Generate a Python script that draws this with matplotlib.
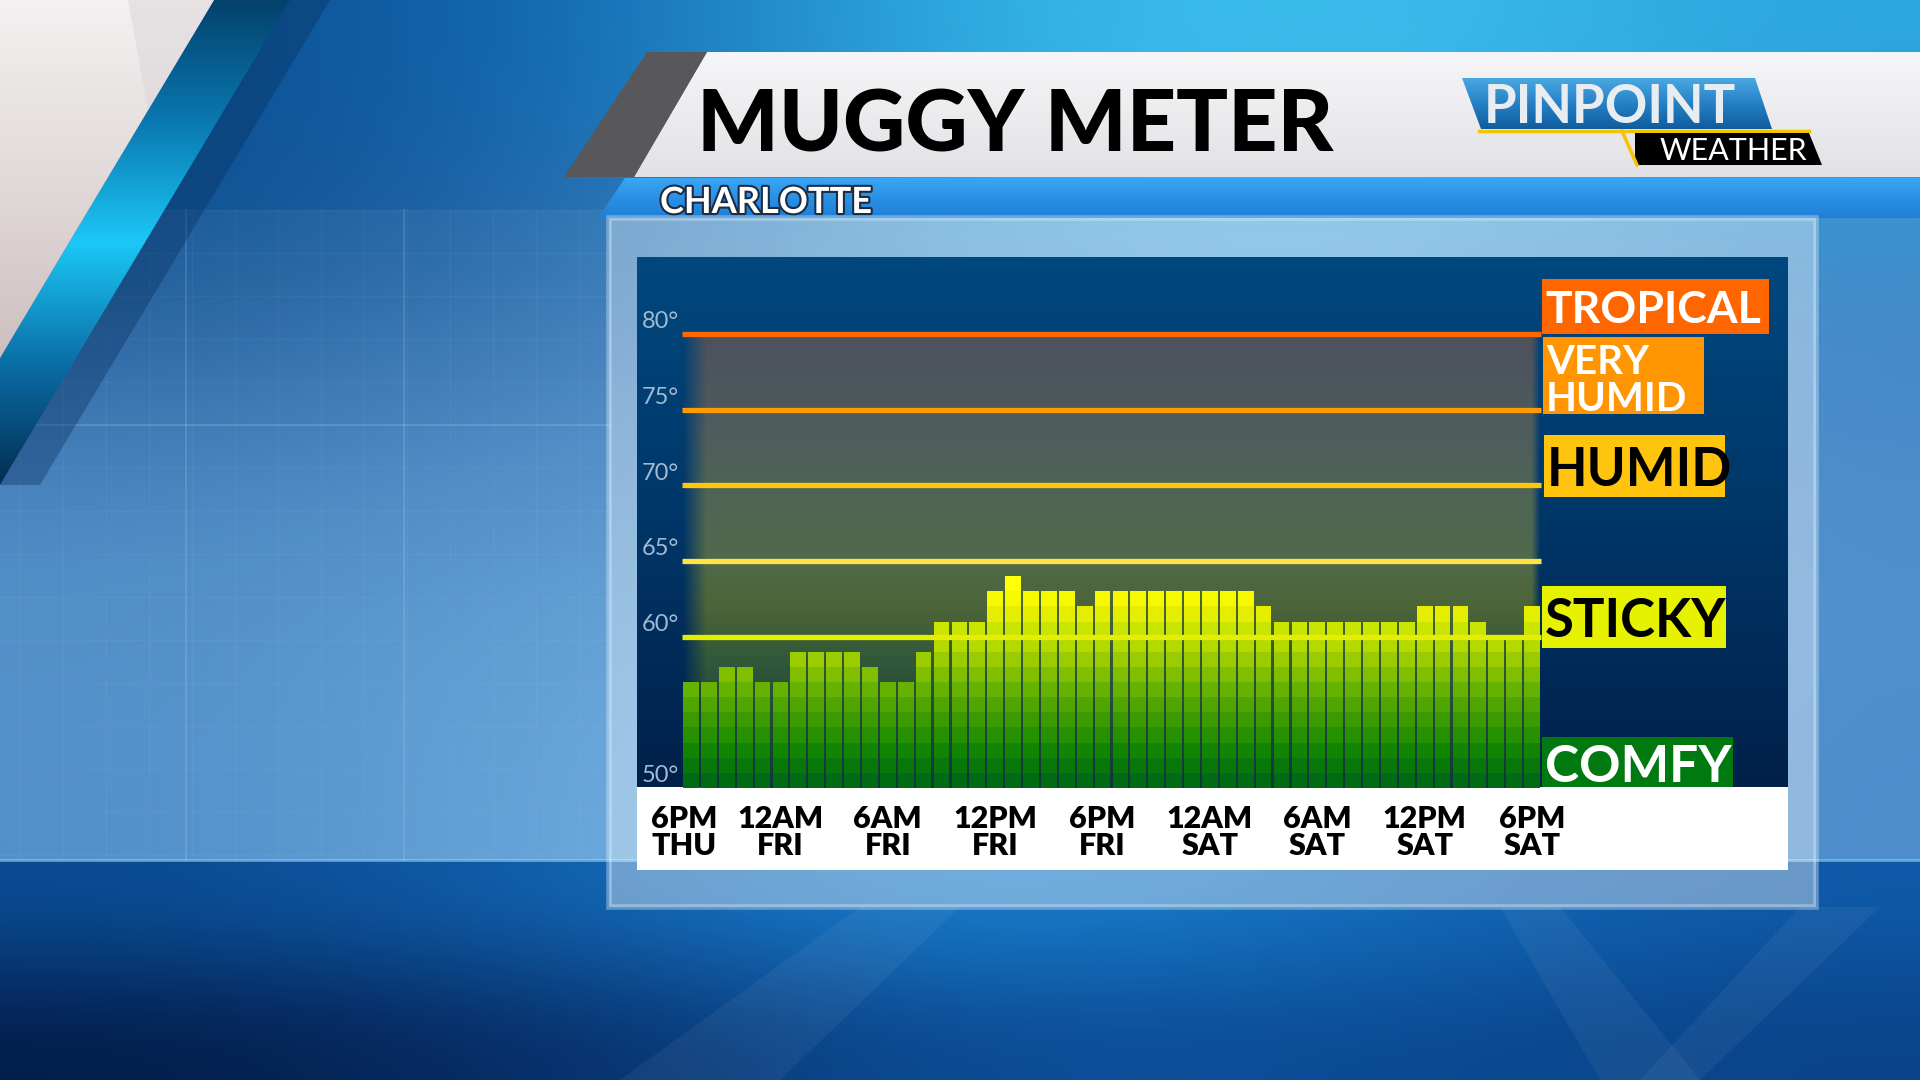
import numpy as np
import matplotlib
matplotlib.use('Agg')
import matplotlib.pyplot as plt
from matplotlib.patches import Polygon, Rectangle
from matplotlib.colors import LinearSegmentedColormap, to_rgb
import matplotlib.transforms as mtransforms
import matplotlib.patheffects as pe

plt.rcParams['font.family'] = ['Lato', 'DejaVu Sans']

# hourly dewpoint, 6PM Thu -> 6PM Sat
dewpoints = [57, 57, 58, 58, 57, 57, 59, 59, 59, 59, 58, 57,
             57, 59, 61, 61, 61, 63, 64, 63, 63, 63, 62, 63,
             63, 63, 63, 63, 63, 63, 63, 63, 62, 61, 61, 61,
             61, 61, 61, 61, 61, 62, 62, 62, 61, 60, 60, 62]
tick_pos = [-0.4, 5, 11, 17, 23, 29, 35, 41, 47]
tick_labels = ['6PM\nTHU', '12AM\nFRI', '6AM\nFRI', '12PM\nFRI', '6PM\nFRI',
               '12AM\nSAT', '6AM\nSAT', '12PM\nSAT', '6PM\nSAT']
y_ticks = [50, 60, 65, 70, 75, 80]
thresholds = [60, 65, 70, 75, 80]
threshold_colors = ['#E4EE00', '#FFE244', '#FFC70C', '#FF9A00', '#FF6600']
categories = ['TROPICAL', 'VERY\nHUMID', 'HUMID', 'STICKY', 'COMFY']
cat_colors = ['#FF6600', '#FF9500', '#FFC40E', '#E6F200', '#007A10']
cat_text = ['white', 'white', 'black', 'black', 'white']

W, H = 1920, 1080
fig = plt.figure(figsize=(19.2, 10.8), dpi=100)
bg = fig.add_axes([0, 0, 1, 1])
bg.set_xlim(0, W)
bg.set_ylim(H, 0)
bg.axis('off')


def grad_poly(pts, colors, vertical=True, z=1, alpha=1.0):
    pts = np.array(pts, float)
    x0, x1 = pts[:, 0].min(), pts[:, 0].max()
    y0, y1 = pts[:, 1].min(), pts[:, 1].max()
    cmap = LinearSegmentedColormap.from_list('g', colors)
    g = np.linspace(0, 1, 256)
    arr = g[:, None] if vertical else g[None, :]
    im = bg.imshow(arr, cmap=cmap, extent=(x0, x1, y1, y0), aspect='auto',
                   zorder=z, alpha=alpha, interpolation='bilinear')
    poly = Polygon(pts, closed=True, facecolor='none', edgecolor='none')
    bg.add_patch(poly)
    im.set_clip_path(poly)
    return im


def grid_img(rows, extent, z=0):
    arr = np.array([[to_rgb(c) for c in r] for r in rows])
    bg.imshow(arr, extent=extent, aspect='auto', interpolation='bicubic', zorder=z)


# background
grid_img([['#0B4F92', '#1468B2', '#2FB2E6', '#3EC4F0', '#2CA6DE'],
          ['#0E4F8E', '#2A6CAE', '#4C98D2', '#5AA6DC', '#3E88C8'],
          ['#3A76B6', '#4A86C4', '#5A98D0', '#64A4D8', '#4A8ACA'],
          ['#4C8CC6', '#5A9CD2', '#66A6DA', '#66A8DA', '#5090CE'],
          ['#4A8AC8', '#60A2D8', '#78B6E2', '#6AAADC', '#4C8CCC']],
         (0, W, 860, 0))
grid_img([['#0A4C94', '#1262B0', '#1C84D2', '#1670C0', '#0E5AA8'],
          ['#031C48', '#082F6A', '#0C4E98', '#0A4C94', '#0A4288']],
         (0, W, H, 860))
bg.plot([0, W], [860, 860], color='#9AD4F4', alpha=0.6, lw=2, zorder=1)

# faint grid on the left
bg.add_patch(Rectangle((0, 210), 610, 650, facecolor='white', alpha=0.05, zorder=1))
for gx in np.arange(20, 610, 43):
    bg.plot([gx, gx], [210, 860], color='white', alpha=0.04, lw=1, zorder=1)
for gy in np.arange(210, 860, 43):
    bg.plot([0, 610], [gy, gy], color='white', alpha=0.04, lw=1, zorder=1)
for gx in [186, 404]:
    bg.plot([gx, gx], [210, 860], color='white', alpha=0.12, lw=1.5, zorder=1)
bg.plot([0, 610], [425, 425], color='white', alpha=0.12, lw=1.5, zorder=1)

# light rays in the lower band
for pts in [[(860, 907), (960, 907), (780, 1080), (620, 1080)],
            [(1500, 907), (1560, 907), (1700, 1080), (1600, 1080)],
            [(1800, 907), (1880, 907), (1700, 1080), (1640, 1080)]]:
    bg.add_patch(Polygon(pts, facecolor='white', alpha=0.05, zorder=1))

# top-left corner shapes
grad_poly([(214, 0), (290, 0), (0, 485), (0, 358)],
          ['#03426C', '#0A78B0', '#1CC8F6', '#0A6EA6', '#032E52'], z=2)
bg.add_patch(Polygon([(290, 0), (330, 0), (40, 485), (0, 485)],
                     facecolor='#062C58', alpha=0.35, zorder=2))
grad_poly([(0, 0), (214, 0), (0, 358)], ['#F3F1F1', '#E2DADA', '#CDBFC0'], z=3)
bg.add_patch(Polygon([(128, 0), (214, 0), (148, 110)],
                     facecolor='#D8D2D6', alpha=0.45, zorder=3))

# header banner
grad_poly([(707, 52), (W, 52), (W, 177), (634, 177)],
          ['#F6F6F8', '#ECECEF', '#E2E2E6'], z=4)
bg.add_patch(Polygon([(647, 52), (707, 52), (634, 177), (564, 177)],
                     facecolor='#58585A', zorder=5))
grad_poly([(625, 178), (W, 178), (W, 218), (598, 218)],
          ['#3AA6F4', '#2A90E4', '#1F7FD6'], z=4)

bg.text(697, 151, 'MUGGY METER', fontsize=62, fontweight='black', color='black',
        va='baseline', ha='left', zorder=6)
bg.text(660, 213, 'CHARLOTTE', fontsize=26, fontweight='bold', color='white',
        va='baseline', ha='left', zorder=6,
        path_effects=[pe.Stroke(linewidth=3, foreground='#1C2C44'), pe.Normal()])

# logo
grad_poly([(1462, 78), (1755, 78), (1772, 129), (1481, 129)],
          ['#4AA8E2', '#2680C4', '#0E5C9E'], z=6)
bg.plot([1479, 1809], [131, 131], color='#F4C400', lw=2.5, zorder=7)
bg.add_patch(Polygon([(1635, 133), (1809, 133), (1822, 165), (1635, 165)],
                     facecolor='black', zorder=7))
bg.plot([1622, 1637], [131, 165], color='#F4C400', lw=2.5, zorder=8)
bg.text(1484, 123, 'PINPOINT', fontsize=38, fontweight='bold', color='#E8EDF2',
        va='baseline', ha='left', zorder=8)
bg.text(1733, 160, 'WEATHER', fontsize=22, fontweight='normal', color='white',
        va='baseline', ha='center', zorder=8)

# chart panel
bg.add_patch(Rectangle((609, 218), 1207, 689, facecolor='white', alpha=0.38,
                       edgecolor='#DDEEFA', lw=4, zorder=4))
grad_poly([(637, 257), (1788, 257), (1788, 787), (637, 787)],
          ['#00487F', '#003668', '#00204A'], z=5)
bg.add_patch(Rectangle((637, 787), 1151, 83, facecolor='white', zorder=5))

# category boxes
boxes = [(1542, 279, 1769, 334, 32, 323),
         (1543, 337, 1704, 414, 29, 411),
         (1544, 435, 1725, 497, 38, 486),
         (1542, 586, 1726, 648, 38, 637),
         (1542, 737, 1733, 787, 37, 782)]
for name, fc, tc, (x0, y0, x1, y1, fs, base) in zip(categories, cat_colors, cat_text, boxes):
    bg.add_patch(Rectangle((x0, y0), x1 - x0, y1 - y0, facecolor=fc, zorder=6))
    lines = name.split('\n')
    for k, line in enumerate(lines):
        yb = base - (len(lines) - 1 - k) * 37
        bg.text(x0 + 3, yb, line, fontsize=fs, fontweight='bold', color=tc,
                va='baseline', ha='left', zorder=7)

# data axes
ax = fig.add_axes([682 / W, (H - 788) / H, (1541 - 682) / W, (788 - 334) / H])
ax.set_xlim(-0.5, len(dewpoints) - 0.5)
ax.set_ylim(50, 80)
ax.patch.set_alpha(0)
for s in ax.spines.values():
    s.set_visible(False)

# shaded band behind the bars
band = LinearSegmentedColormap.from_list('band', [(0, '#4D515C'), (0.17, '#4E5A5D'),
                                                  (0.33, '#4F6458'), (0.5, '#506A4A'),
                                                  (0.6, '#4C6438'), (0.73, '#30573A'),
                                                  (1, '#0E3838')])
ny, nx = 300, 480
rgba = band(np.linspace(0, 1, ny))[:, None, :].repeat(nx, axis=1)
xs = np.linspace(-0.5, len(dewpoints) - 0.5, nx)
fade = np.clip((xs + 0.5) / 1.3, 0, 1) * np.clip((len(dewpoints) - 0.5 - xs) / 0.45, 0, 1)
rgba[:, :, 3] = fade[None, :]
ax.imshow(rgba, extent=(-0.5, len(dewpoints) - 0.5, 50, 80), aspect='auto',
          zorder=1, interpolation='bilinear')

# banded bars
lev_cmap = LinearSegmentedColormap.from_list('dew', [
    (0, '#006A14'), (0.14, '#108600'), (0.286, '#3A9A00'), (0.43, '#66B200'),
    (0.57, '#99CC00'), (0.64, '#B3D900'), (0.714, '#CCE500'), (0.786, '#E4EE00'),
    (0.857, '#F8F800'), (0.93, '#FFFF06'), (1, '#FFEE22')])
vals = np.array(dewpoints)
idx = np.arange(len(vals))
for lev in range(50, 65):
    m = vals > lev
    if m.any():
        ax.bar(idx[m], np.minimum(vals[m] - lev, 1), bottom=lev, width=0.88,
               color=lev_cmap((lev - 50) / 14), linewidth=0, zorder=3)

for t, c in zip(thresholds, threshold_colors):
    ax.axhline(t, color=c, lw=3.8, zorder=4, clip_on=False, solid_capstyle='butt')

trans = mtransforms.blended_transform_factory(ax.transAxes, ax.transData)
for v in y_ticks:
    ax.text(-0.004, v + 0.8, f'{v}°', transform=trans, ha='right', va='center',
            fontsize=17, color='#A2BAD2', zorder=5)

ax.set_yticks([])
ax.set_xticks(tick_pos)
ax.set_xticklabels(tick_labels, fontsize=22, fontweight='heavy', color='black')
ax.tick_params(axis='x', length=0, pad=12)
for lbl in ax.get_xticklabels():
    lbl.set_linespacing(0.95)

bg.set_xlim(0, W)
bg.set_ylim(H, 0)
fig.savefig('out.png', dpi=100)
